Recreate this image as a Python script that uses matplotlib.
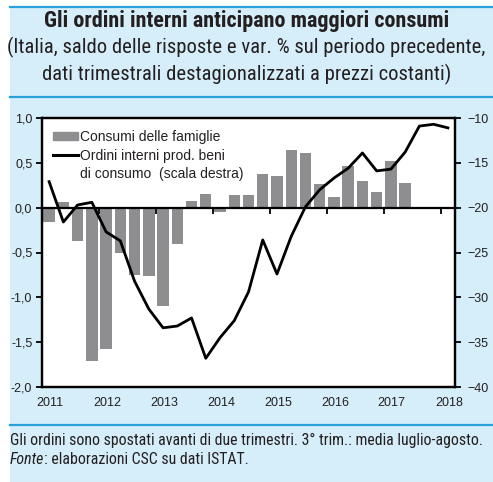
import numpy as np
import matplotlib
matplotlib.use("Agg")
import matplotlib.pyplot as plt
import matplotlib.ticker as mticker
from matplotlib import font_manager
from matplotlib.patches import Rectangle, Patch
from matplotlib.lines import Line2D
from matplotlib.transforms import ScaledTranslation

# consumi delle famiglie, var. % trimestrale (2011 T1 - 2017 T2)
consumi = [-0.16, 0.06, -0.37, -1.71, -1.58, -0.50, -0.75, -0.76, -1.10, -0.41,
           0.07, 0.15, -0.05, 0.14, 0.14, 0.38, 0.35, 0.64, 0.61, 0.26,
           0.12, 0.46, 0.30, 0.18, 0.52, 0.27]
# ordini interni prod. beni di consumo, saldo (spostati avanti di due trimestri)
ordini = [-17.1, -21.6, -19.7, -19.4, -22.7, -23.7, -28.2, -31.3, -33.4, -33.2,
          -32.3, -36.8, -34.5, -32.6, -29.4, -23.6, -27.4, -23.2, -19.9, -18.0,
          -16.7, -15.6, -13.9, -15.9, -15.7, -13.8, -10.9, -10.7, -11.1]
anni = [2011, 2012, 2013, 2014, 2015, 2016, 2017, 2018]

titolo = "Gli ordini interni anticipano maggiori consumi"
sottotitolo = ["(Italia, saldo delle risposte e var. % sul periodo precedente,",
               "dati trimestrali destagionalizzati a prezzi costanti)"]
nota = "Gli ordini sono spostati avanti di due trimestri. 3° trim.: media luglio-agosto."
fonte = ": elaborazioni CSC su dati ISTAT."

# colori
azzurro = "#d6eefa"
blu = "#2ba0dc"
grigio = "#8e8e91"
testo = "#231f20"

# font stretto per titolo e note, se c'e'
fonts = font_manager.fontManager.ttflist
nomi = {f.name for f in fonts}
narrow, stretch = "Liberation Sans", "normal"
for c in ["Liberation Sans Narrow", "Roboto Condensed", "Open Sans Condensed",
          "DejaVu Sans Condensed"]:
    if c in nomi:
        narrow = c
        break
else:
    if any(f.name == "DejaVu Sans" and "condensed" in str(f.stretch) for f in fonts):
        narrow, stretch = "DejaVu Sans", "condensed"
plt.rcParams["font.family"] = ["Liberation Sans", "DejaVu Sans"]

W, H = 493, 482
fig = plt.figure(figsize=(W / 100, H / 100), dpi=100, facecolor="white")
renderer = fig.canvas.get_renderer()


def adatta(t, larghezza):
    # porta il testo alla larghezza in pixel del riferimento
    w = t.get_window_extent(renderer).width
    t.set_fontsize(t.get_fontsize() * larghezza / w)


# sfondo azzurro e righe blu
fig.add_artist(Rectangle((10 / W, 0), 1, 1 - 7 / H, transform=fig.transFigure,
                         facecolor=azzurro, edgecolor="none", zorder=-10))
for yy in [7, 97, 425]:
    fig.add_artist(Line2D([10 / W, 1], [1 - yy / H] * 2, transform=fig.transFigure,
                          color=blu, lw=1.6))

# titolo
t1 = fig.text(0.5, 1 - 21 / H, titolo, ha="center", va="center", family=narrow,
              fontstretch=stretch, fontweight="bold", fontsize=13, color=testo)
t2 = fig.text(0.5, 1 - 47 / H, sottotitolo[0], ha="center", va="center", family=narrow,
              fontstretch=stretch, fontsize=13, color=testo)
t3 = fig.text(0.5, 1 - 74 / H, sottotitolo[1], ha="center", va="center", family=narrow,
              fontstretch=stretch, fontsize=13, color=testo)
adatta(t1, 403)
adatta(t2, 476)
t3.set_fontsize(t2.get_fontsize())

# grafico
ax = fig.add_axes([42 / W, 1 - 387 / H, (455 - 42) / W, (387 - 118) / H])
x_cons = [anni[0] + (i + 0.5) / 4 for i in range(len(consumi))]
x_ord = [anni[0] + (i + 0.5) / 4 for i in range(len(ordini))]

ax.bar(x_cons, consumi, width=0.2, color=grigio, zorder=2)
ax.set_xlim(2011, 2018.25)
ax.set_ylim(-2, 1)
ax.set_yticks(np.arange(-2, 1.01, 0.5))
ax.yaxis.set_major_formatter(mticker.FuncFormatter(lambda v, p: f"{v:.1f}".replace(".", ",")))
ax.set_xticks(anni)
ax.tick_params(axis="x", length=0, pad=7, labelsize=9, labelcolor=testo)
ax.tick_params(axis="y", direction="out", length=4, width=1.3, pad=3, labelsize=9, labelcolor=testo)
for lab in ax.get_xticklabels():
    lab.set_transform(lab.get_transform() + ScaledTranslation(8 / 100, 0, fig.dpi_scale_trans))
for s in ax.spines.values():
    s.set_linewidth(1.6)

# linea dello zero con le tacche degli anni
zero = ax.secondary_xaxis(2 / 3)
zero.set_xticks(anni)
zero.tick_params(direction="in", length=4, width=1.3, labeltop=False)
zero.spines["top"].set_linewidth(1.6)
zero.set_zorder(3)

# scala destra
ax2 = ax.twinx()
ax2.plot(x_ord, ordini, color="black", lw=2.0, zorder=4)
ax2.set_ylim(-40, -10)
ax2.set_yticks(np.arange(-40, -9, 5))
ax2.tick_params(axis="y", direction="out", length=4, width=1.3, pad=5, labelsize=9, labelcolor=testo)
for s in ax2.spines.values():
    s.set_linewidth(1.6)

handles = [Patch(color=grigio), Line2D([], [], color="black", lw=2.2),
           Line2D([], [], alpha=0)]
etichette = ["Consumi delle famiglie", "Ordini interni prod. beni", "di consumo  (scala destra)"]
ax2.legend(handles, etichette, loc="upper left", bbox_to_anchor=(0.027, 0.955),
           frameon=False, fontsize=10, handlelength=1.8, handleheight=0.45,
           handletextpad=0.15, labelspacing=0.32, borderaxespad=0, borderpad=0,
           labelcolor=testo)

# note
n1 = fig.text(10 / W, 1 - 440 / H, nota, ha="left", va="center", family=narrow,
              fontstretch=stretch, fontsize=10.5, color=testo)
adatta(n1, 476)
fs = n1.get_fontsize()
t_fonte = fig.text(10 / W, 1 - 460 / H, "Fonte", ha="left", va="center", family=narrow,
                   fontstretch=stretch, fontstyle="italic", fontsize=fs, color=testo)
ax.annotate(fonte, xy=(1, 0), xycoords=t_fonte, va="bottom", ha="left",
            family=narrow, fontstretch=stretch, fontsize=fs, color=testo,
            annotation_clip=False)

fig.savefig("out.png", dpi=100)
